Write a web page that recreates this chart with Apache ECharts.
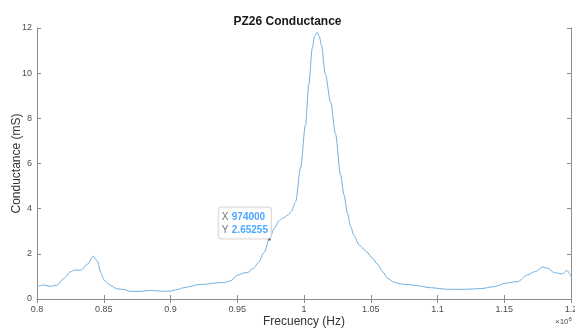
<!DOCTYPE html>
<html>
<head>
<meta charset="utf-8">
<script src="https://cdn.jsdelivr.net/npm/echarts@6/dist/echarts.min.js"></script>
<style>
  html, body { margin: 0; padding: 0; background: #fff; }
  #chart { width: 575px; height: 329px; }
</style>
</head>
<body>
<div id="chart"></div>
<script>
// frequency (MHz, converted to Hz below) and conductance (mS)
const freqMHz = [
  0.800, 0.805, 0.810, 0.815, 0.820, 0.825, 0.828, 0.833, 0.838, 0.842,
  0.845, 0.848, 0.850, 0.855, 0.860, 0.865, 0.870, 0.875, 0.880, 0.885,
  0.890, 0.895, 0.900, 0.905, 0.910, 0.915, 0.920, 0.925, 0.930, 0.935,
  0.940, 0.945, 0.950, 0.955, 0.958, 0.962, 0.966, 0.970, 0.974, 0.978,
  0.981, 0.984, 0.988, 0.9905, 0.9937, 0.9974, 1.0011, 1.0036, 1.0062, 1.008,
  1.0099, 1.0115, 1.013, 1.016, 1.020, 1.0236, 1.0274, 1.030, 1.0325, 1.035,
  1.0375, 1.041, 1.044, 1.047, 1.051, 1.055, 1.059, 1.0625,
  1.0675, 1.0725, 1.0825, 1.095, 1.1075, 1.120, 1.1325, 1.1425, 1.151, 1.160,
  1.1675, 1.1735, 1.1787, 1.1825, 1.1875, 1.1935, 1.197, 1.200
]
const conductance = [
  0.55, 0.62, 0.56, 0.62, 0.90, 1.20, 1.28, 1.28, 1.55, 1.90,
  1.70, 1.15, 0.85, 0.60, 0.45, 0.42, 0.34, 0.33, 0.35, 0.38,
  0.36, 0.34, 0.35, 0.42, 0.50, 0.56, 0.63, 0.65, 0.68, 0.72,
  0.73, 0.80, 1.05, 1.15, 1.18, 1.35, 1.62, 2.05, 2.65255, 3.15,
  3.45, 3.57, 3.72, 3.88, 4.30, 5.80, 7.70, 9.50, 11.1, 11.65,
  11.8, 11.62, 11.25, 9.95, 8.70, 7.30, 5.50, 4.60, 3.80, 3.20,
  2.80, 2.42, 2.25, 2.08, 1.82, 1.55, 1.20, 0.92,
  0.74, 0.67, 0.61, 0.50, 0.43, 0.43, 0.46, 0.55, 0.70, 0.77,
  1.07, 1.22, 1.42, 1.36, 1.17, 1.11, 1.26, 0.99
]
// data tip
const tipX = 974000
const tipY = 2.65255

const chart = echarts.init(document.getElementById('chart'))

const axisGray = '#8c8c8c'
const labelGray = '#4d4d4d'

const option = {
  animation: false,
  backgroundColor: '#fff',
  textStyle: { fontFamily: 'Liberation Sans, Arial, sans-serif' },
  title: {
    text: 'PZ26 Conductance',
    left: 'center',
    top: 11,
    textStyle: { fontSize: 12, fontWeight: 'bold', color: '#1a1a1a' }
  },
  grid: { left: 37, right: 4, top: 28, bottom: 30, containLabel: false, outerBoundsMode: 'none' },
  xAxis: [
    {
      type: 'value',
      min: 800000,
      max: 1200000,
      interval: 50000,
      name: 'Frecuency (Hz)',
      nameLocation: 'middle',
      nameGap: 17,
      nameMoveOverlap: false,
      nameTextStyle: { fontSize: 12, color: '#333' },
      axisLine: { lineStyle: { color: axisGray } },
      axisTick: { inside: true, length: 4, lineStyle: { color: axisGray } },
      axisLabel: {
        fontSize: 9, color: labelGray, margin: 6,
        formatter: v => String(+(v / 1e6).toFixed(2))
      },
      splitLine: { show: false }
    },
    {
      type: 'value',
      position: 'top',
      min: 800000,
      max: 1200000,
      interval: 50000,
      axisLine: { show: true, lineStyle: { color: axisGray } },
      axisTick: { inside: true, length: 4, lineStyle: { color: axisGray } },
      axisLabel: { show: false },
      splitLine: { show: false }
    }
  ],
  yAxis: [
    {
      type: 'value',
      min: 0,
      max: 12,
      interval: 2,
      name: 'Conductance (mS)',
      nameLocation: 'middle',
      nameGap: 14,
      nameMoveOverlap: false,
      nameTextStyle: { fontSize: 12, color: '#333' },
      axisLine: { show: true, lineStyle: { color: axisGray } },
      axisTick: { show: true, inside: true, length: 4, lineStyle: { color: axisGray } },
      axisLabel: { fontSize: 9, color: labelGray, margin: 5 },
      splitLine: { show: false }
    },
    {
      type: 'value',
      position: 'right',
      min: 0,
      max: 12,
      interval: 2,
      axisLine: { show: true, lineStyle: { color: axisGray } },
      axisTick: { show: true, inside: true, length: 4, lineStyle: { color: axisGray } },
      axisLabel: { show: false },
      splitLine: { show: false }
    }
  ],
  series: [
    {
      type: 'line',
      data: freqMHz.map((f, i) => [Math.round(f * 1e6), conductance[i]]),
      smooth: 0.3,
      smoothMonotone: 'x',
      showSymbol: false,
      lineStyle: { color: '#6fb0e2', width: 1 },
      z: 2
    },
    {
      type: 'scatter',
      data: [[tipX, tipY]],
      symbolSize: 3,
      itemStyle: { color: '#111' },
      z: 5,
      label: {
        show: true,
        position: [-49, -30],
        backgroundColor: '#fff',
        borderColor: '#d0d0d0',
        borderWidth: 1,
        borderRadius: 3,
        padding: [3, 3, 2, 3],
        lineHeight: 13,
        formatter: '{k|X} {v|' + tipX + '}\n{k|Y} {v|' + tipY + '}',
        rich: {
          k: { fontSize: 10, color: '#4d4d4d', lineHeight: 13 },
          v: { fontSize: 10, fontWeight: 'bold', color: '#1e90ff', lineHeight: 13 }
        }
      }
    }
  ],
  graphic: [
    {
      type: 'text',
      left: 555,
      top: 316,
      style: {
        text: '×10{s|6}',
        rich: { s: { fontSize: 6, verticalAlign: 'top', padding: [0, 0, 5, 0], fill: labelGray } },
        fontSize: 8,
        fill: labelGray,
        fontFamily: 'Liberation Sans, Arial, sans-serif'
      }
    }
  ]
}

chart.setOption(option)
</script>
</body>
</html>
